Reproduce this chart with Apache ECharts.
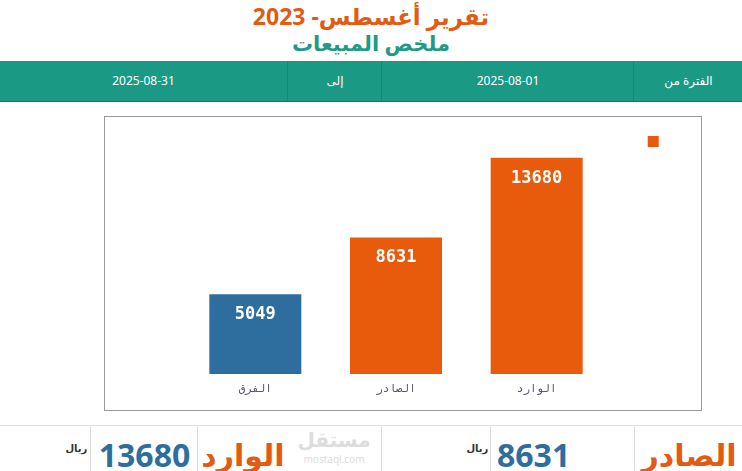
<!DOCTYPE html>
<html><head><meta charset="utf-8">
<script src="https://cdn.jsdelivr.net/npm/echarts@6/dist/echarts.min.js"></script>
<style>
body{margin:0;width:742px;height:471px;overflow:hidden;background:#fff;font-family:"Noto Sans","DejaVu Sans",sans-serif;position:relative}
.t{position:absolute;left:0;width:742px;text-align:center;font-weight:bold}
.band{position:absolute;top:61px;left:0;width:742px;height:40px;background:#1a9985;border-bottom:1px solid #137a6a}
.c{position:absolute;top:0;height:40px;line-height:40px;color:#fff;font-size:12px;text-align:center;border-left:1px solid #148775}
#chart{position:absolute;left:104px;top:116px;width:596px;height:293px;border:1px solid #999;box-sizing:content-box}
.foot{position:absolute;top:425px;left:0;width:742px;height:46px;border-top:1px solid #ddd}
.f{position:absolute;top:0;height:46px;border-left:1px solid #ddd;font-weight:bold;font-size:30px;line-height:58px;text-align:center}
.n{font-family:"Liberation Sans Narrow","Noto Sans",sans-serif;font-size:32px}
</style></head><body>
<div class="t" style="top:0px;font-size:23px;color:#e35a12">تقرير أغسطس- 2023</div>
<div class="t" style="top:29px;font-size:21px;color:#1f9a86">ملخص المبيعات</div>
<div class="band">
 <div class="c" style="left:0;width:287px;border-left:none">2025-08-31</div>
 <div class="c" style="left:287px;width:94px">إلى</div>
 <div class="c" style="left:381px;width:252px">2025-08-01</div>
 <div class="c" style="left:633px;width:109px">الفترة من</div>
</div>
<div id="chart"></div>
<div class="foot">
 <div class="f" style="left:0;width:90px;border-left:none;font-size:10px;color:#333;text-align:right;line-height:44px">ريال&nbsp;</div>
 <div class="f n" style="left:90px;width:107px;color:#2e6e9e">13680</div>
 <div class="f" style="left:197px;width:90px;color:#e35a12">الوارد</div>
 <div class="f" style="left:287px;width:94px;border-left:none;font-size:20px;color:#ddd;line-height:28px">مستقل<div style="font-size:10px;line-height:10px;font-weight:normal">mostaql.com</div></div>
 <div class="f" style="left:381px;width:109px;font-size:10px;color:#333;text-align:right;line-height:44px">ريال&nbsp;</div>
 <div class="f n" style="left:490px;width:144px;color:#2e6e9e;text-align:left;padding-left:6px">8631</div>
 <div class="f" style="left:634px;width:108px;color:#e35a12">الصادر</div>
</div>
<script>
const categories=["الفرق","الصادر","الوارد"];
const values=[5049,8631,13680];
const colors=["#2e6e9e","#e85a0c","#e85a0c"];
const c=echarts.init(document.getElementById('chart'));
c.setOption({
 animation:false,
 legend:{show:true,right:32,top:14,itemWidth:11,itemHeight:11,icon:'rect',data:[{name:' ',itemStyle:{color:'#e85a0c'}}],textStyle:{fontSize:1}},
 grid:{left:80,right:94,top:4,bottom:36},
 xAxis:{type:'category',data:categories,axisLine:{show:false},axisTick:{show:false},
  axisLabel:{color:'#557',fontSize:11,margin:10,fontFamily:'DejaVu Sans Mono'}},
 yAxis:{type:'value',min:0,max:16000,show:false,splitLine:{show:false}},
 series:[{name:' ',type:'bar',barWidth:92,data:values.map((v,i)=>({value:v,itemStyle:{color:colors[i]}})),
  label:{show:true,position:'insideTop',distance:12,color:'#fff',fontSize:17,fontWeight:'bold',fontFamily:'DejaVu Sans Mono'}}]
});
</script></body></html>
